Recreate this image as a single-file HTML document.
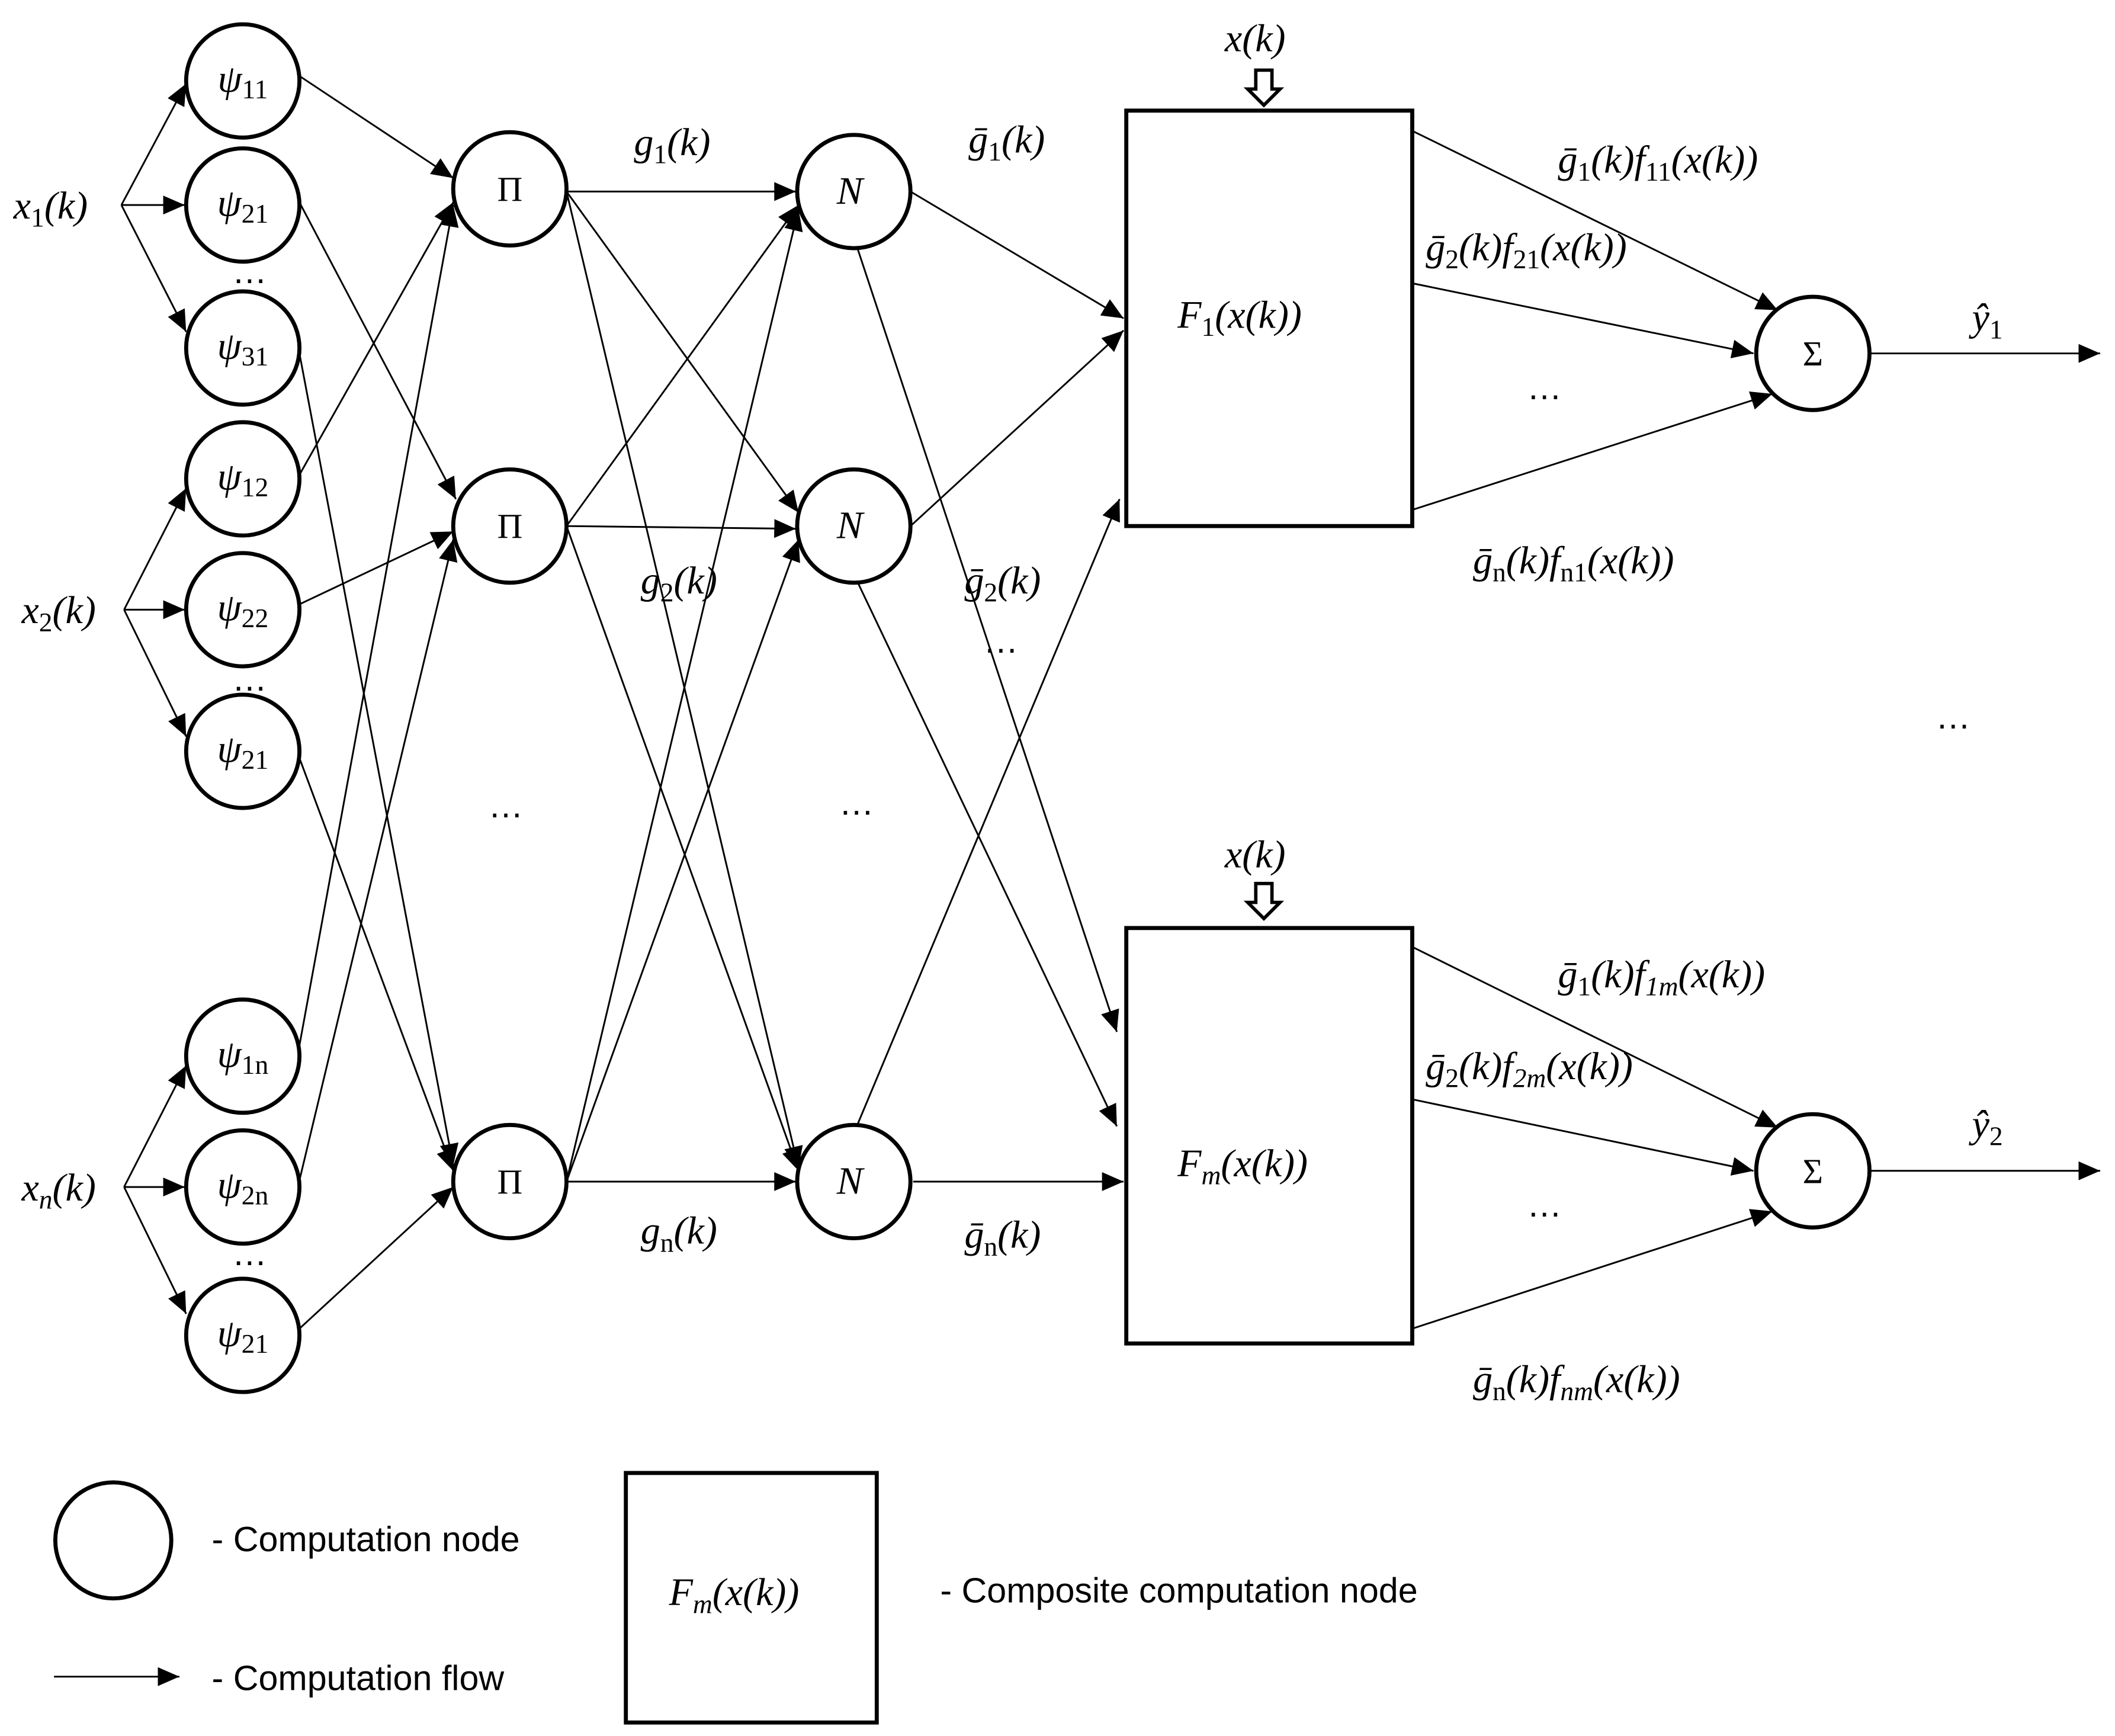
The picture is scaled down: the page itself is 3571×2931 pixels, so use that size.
<!DOCTYPE html>
<html><head><meta charset="utf-8"><style>
html,body{margin:0;padding:0;background:#fff;}
svg{display:block}
.m{font-family:"Liberation Serif","DejaVu Serif",serif;font-style:italic;font-size:29px;fill:#000}
.u{font-style:normal}
.s{font-family:"Liberation Sans","DejaVu Sans",sans-serif;font-size:26px;fill:#000}
.c{fill:#fff;stroke:#000;stroke-width:3}
.l line{stroke:#000;stroke-width:1.3;marker-end:url(#a)}
</style></head><body>
<svg width="3571" height="2931" viewBox="0 0 1568 1287" preserveAspectRatio="none" xmlns="http://www.w3.org/2000/svg">
<defs><marker id="a" markerUnits="userSpaceOnUse" markerWidth="18" markerHeight="14" refX="16" refY="7" orient="auto"><path d="M0,0 L16,7 L0,14 Z" fill="#000"/></marker></defs>
<g class="l">
<line x1="90" y1="152" x2="138" y2="62"/><line x1="90" y1="152" x2="137" y2="152"/><line x1="90" y1="152" x2="138" y2="246"/>
<line x1="92" y1="452" x2="138" y2="362"/><line x1="92" y1="452" x2="137" y2="452"/><line x1="92" y1="452" x2="138" y2="546"/>
<line x1="92" y1="880" x2="138" y2="790"/><line x1="92" y1="880" x2="137" y2="880"/><line x1="92" y1="880" x2="138" y2="974"/>
<line x1="220" y1="55" x2="336" y2="132"/>
<line x1="222" y1="150" x2="338" y2="370"/>
<line x1="222" y1="262" x2="336" y2="864"/>
<line x1="222" y1="352" x2="336" y2="150"/>
<line x1="222" y1="448" x2="336" y2="394"/>
<line x1="222" y1="562" x2="336" y2="868"/>
<line x1="222" y1="775" x2="336" y2="152"/>
<line x1="222" y1="875" x2="336" y2="400"/>
<line x1="222" y1="985" x2="336" y2="880"/>
<line x1="420" y1="142" x2="590" y2="142"/><line x1="420" y1="142" x2="592" y2="380"/><line x1="420" y1="142" x2="592" y2="866"/>
<line x1="420" y1="390" x2="592" y2="152"/><line x1="420" y1="390" x2="590" y2="392"/><line x1="420" y1="390" x2="592" y2="868"/>
<line x1="420" y1="876" x2="592" y2="155"/><line x1="420" y1="876" x2="592" y2="400"/><line x1="420" y1="876" x2="590" y2="876"/>
<line x1="675" y1="142" x2="833" y2="236"/><line x1="636" y1="185" x2="828" y2="765"/>
<line x1="675" y1="390" x2="833" y2="245"/><line x1="636" y1="432" x2="828" y2="835"/>
<line x1="636" y1="833" x2="830" y2="370"/><line x1="677" y1="876" x2="833" y2="876"/>
<line x1="1047" y1="97" x2="1318" y2="230"/><line x1="1047" y1="210" x2="1300" y2="262"/><line x1="1047" y1="378" x2="1314" y2="292"/>
<line x1="1047" y1="702" x2="1318" y2="836"/><line x1="1047" y1="815" x2="1300" y2="868"/><line x1="1047" y1="985" x2="1314" y2="898"/>
<line x1="1386" y1="262" x2="1557" y2="262"/><line x1="1386" y1="868" x2="1557" y2="868"/>
<line x1="40" y1="1243" x2="133" y2="1243"/>
</g>
<g class="c">
<circle cx="180" cy="60" r="42"/><circle cx="180" cy="152" r="42"/><circle cx="180" cy="258" r="42"/>
<circle cx="180" cy="355" r="42"/><circle cx="180" cy="452" r="42"/><circle cx="180" cy="557" r="42"/>
<circle cx="180" cy="783" r="42"/><circle cx="180" cy="880" r="42"/><circle cx="180" cy="990" r="42"/>
<circle cx="378" cy="140" r="42"/><circle cx="378" cy="390" r="42"/><circle cx="378" cy="876" r="42"/>
<circle cx="633" cy="142" r="42"/><circle cx="633" cy="390" r="42"/><circle cx="633" cy="876" r="42"/>
<circle cx="1344" cy="262" r="42"/><circle cx="1344" cy="868" r="42"/>
<circle cx="84" cy="1142" r="43"/>
<rect x="835" y="82" width="212" height="308"/><rect x="835" y="688" width="212" height="308"/>
<rect x="464" y="1092" width="186" height="185"/>
<path d="M931,52 h12 v14 h6 l-12,12 l-12,-12 h6 z" stroke-width="2.5"/>
<path d="M931,655 h12 v14 h6 l-12,12 l-12,-12 h6 z" stroke-width="2.5"/>
</g>
<g class="m">
<text x="10" y="162">x<tspan font-size="20" dy="6" class="u">1</tspan><tspan dy="-6">(k)</tspan></text>
<text x="16" y="462">x<tspan font-size="20" dy="6" class="u">2</tspan><tspan dy="-6">(k)</tspan></text>
<text x="16" y="890">x<tspan font-size="20" dy="6">n</tspan><tspan dy="-6">(k)</tspan></text>
<g text-anchor="middle">
<text x="180" y="68">ψ<tspan font-size="20" dy="5" class="u">11</tspan></text>
<text x="180" y="160">ψ<tspan font-size="20" dy="5" class="u">21</tspan></text>
<text x="180" y="266">ψ<tspan font-size="20" dy="5" class="u">31</tspan></text>
<text x="180" y="363">ψ<tspan font-size="20" dy="5" class="u">12</tspan></text>
<text x="180" y="460">ψ<tspan font-size="20" dy="5" class="u">22</tspan></text>
<text x="180" y="565">ψ<tspan font-size="20" dy="5" class="u">21</tspan></text>
<text x="180" y="791">ψ<tspan font-size="20" dy="5" class="u">1n</tspan></text>
<text x="180" y="888">ψ<tspan font-size="20" dy="5" class="u">2n</tspan></text>
<text x="180" y="998">ψ<tspan font-size="20" dy="5" class="u">21</tspan></text>
<text x="378" y="149" class="u" font-size="26">Π</text><text x="378" y="399" class="u" font-size="26">Π</text><text x="378" y="885" class="u" font-size="26">Π</text>
<text x="630" y="151">N</text><text x="630" y="399">N</text><text x="630" y="885">N</text>
<text x="1344" y="271" class="u" font-size="26">Σ</text><text x="1344" y="877" class="u" font-size="26">Σ</text>
</g>
<text x="470" y="115">g<tspan font-size="20" dy="6" class="u">1</tspan><tspan dy="-6">(k)</tspan></text>
<text x="475" y="440">g<tspan font-size="20" dy="6" class="u">2</tspan><tspan dy="-6">(k)</tspan></text>
<text x="475" y="922">g<tspan font-size="20" dy="6" class="u">n</tspan><tspan dy="-6">(k)</tspan></text>
<text x="718" y="113">ḡ<tspan font-size="20" dy="6" class="u">1</tspan><tspan dy="-6">(k)</tspan></text>
<text x="715" y="440">ḡ<tspan font-size="20" dy="6" class="u">2</tspan><tspan dy="-6">(k)</tspan></text>
<text x="715" y="925">ḡ<tspan font-size="20" dy="6" class="u">n</tspan><tspan dy="-6">(k)</tspan></text>
<text x="873" y="243">F<tspan font-size="20" dy="6" class="u">1</tspan><tspan dy="-6">(x(k))</tspan></text>
<text x="873" y="872">F<tspan font-size="20" dy="6">m</tspan><tspan dy="-6">(x(k))</tspan></text>
<text x="908" y="38">x(k)</text><text x="908" y="643">x(k)</text>
<text x="1155" y="128">ḡ<tspan font-size="20" dy="6" class="u">1</tspan><tspan dy="-6">(k)f</tspan><tspan font-size="20" dy="6" class="u">11</tspan><tspan dy="-6">(x(k))</tspan></text>
<text x="1057" y="193">ḡ<tspan font-size="20" dy="6" class="u">2</tspan><tspan dy="-6">(k)f</tspan><tspan font-size="20" dy="6" class="u">21</tspan><tspan dy="-6">(x(k))</tspan></text>
<text x="1092" y="425">ḡ<tspan font-size="20" dy="6" class="u">n</tspan><tspan dy="-6">(k)f</tspan><tspan font-size="20" dy="6" class="u">n1</tspan><tspan dy="-6">(x(k))</tspan></text>
<text x="1155" y="732">ḡ<tspan font-size="20" dy="6" class="u">1</tspan><tspan dy="-6">(k)f</tspan><tspan font-size="20" dy="6">1m</tspan><tspan dy="-6">(x(k))</tspan></text>
<text x="1057" y="800">ḡ<tspan font-size="20" dy="6" class="u">2</tspan><tspan dy="-6">(k)f</tspan><tspan font-size="20" dy="6">2m</tspan><tspan dy="-6">(x(k))</tspan></text>
<text x="1092" y="1032">ḡ<tspan font-size="20" dy="6" class="u">n</tspan><tspan dy="-6">(k)f</tspan><tspan font-size="20" dy="6">nm</tspan><tspan dy="-6">(x(k))</tspan></text>
<text x="1462" y="245">ŷ<tspan font-size="20" dy="6" class="u">1</tspan></text>
<text x="1462" y="843">ŷ<tspan font-size="20" dy="6" class="u">2</tspan></text>
<text x="496" y="1190">F<tspan font-size="20" dy="6">m</tspan><tspan dy="-6">(x(k))</tspan></text>
</g>
<g class="s" text-anchor="middle" font-size="22">
<text x="185" y="210">…</text><text x="185" y="512">…</text><text x="185" y="938">…</text>
<text x="375" y="606">…</text><text x="635" y="604">…</text><text x="742" y="484">…</text>
<text x="1145" y="296">…</text><text x="1448" y="540">…</text><text x="1145" y="902">…</text>
</g>
<text class="s" x="157" y="1150">- Computation node</text>
<text class="s" x="157" y="1253">- Computation flow</text>
<text class="s" x="697" y="1188">- Composite computation node</text>
</svg>
</body></html>
